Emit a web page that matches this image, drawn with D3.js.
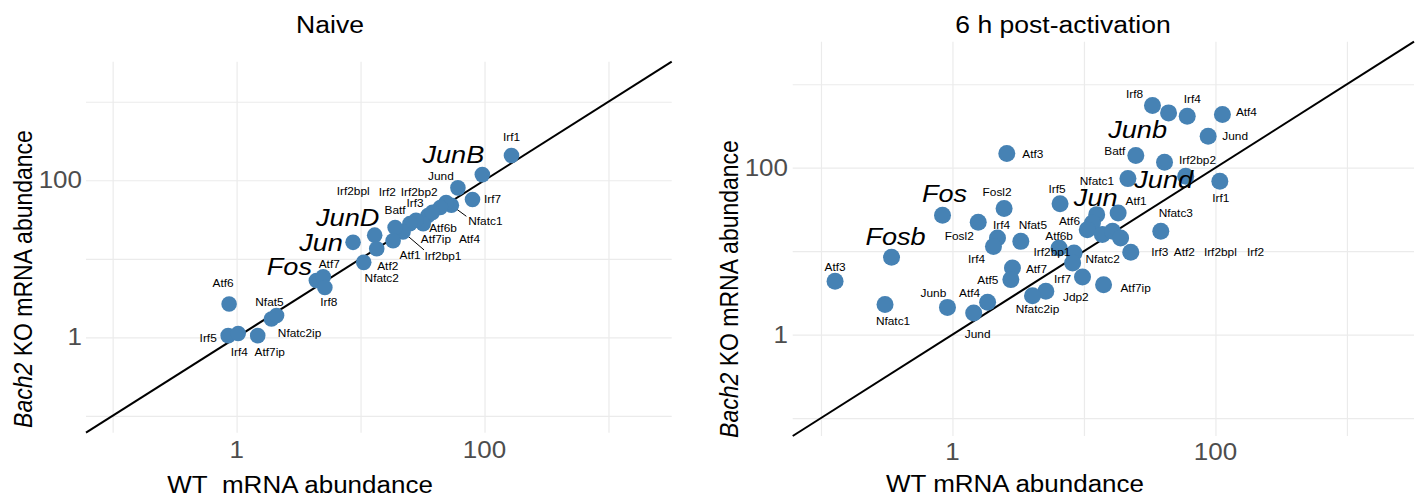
<!DOCTYPE html>
<html>
<head>
<meta charset="utf-8">
<script src="https://cdn.jsdelivr.net/npm/d3@7"></script>
<style>
  body { margin: 0; background: #fff; }
  text { font-family: "Liberation Sans", Arial, Helvetica, sans-serif; }
</style>
</head>
<body>
<div id="chart"></div>
<script>
// ---- data: Naive ----
const naiveGenes = ["Irf1", "JunB", "Jund", "Irf7", "Nfatc1", "Irf2bp2", "Irf2", "Irf3", "Irf2bpl", "Atf6b",
  "Atf7ip", "Atf4", "Irf2bp1", "Batf", "Atf1", "JunD", "Jun", "Atf2", "Nfatc2", "Fos",
  "Atf7", "Irf8", "Atf6", "Nfat5", "Nfatc2ip", "Irf5", "Irf4", "Atf7ip"];
const naiveWT = [165, 96, 61, 80, 54, 49, 44, 35, 32, 28,
  25, 38, 22, 19, 18.3, 13, 8.7, 13.5, 10.6, 4.4,
  5.0, 5.15, 0.87, 1.91, 2.1, 0.855, 1.03, 1.48];
const naiveKO = [207, 118, 80, 57, 48, 52, 45, 35.5, 28, 31,
  28, 39, 22, 25, 17, 20, 16.2, 13.4, 9, 5.3,
  5.9, 4.3, 2.66, 1.71, 1.89, 1.05, 1.12, 1.05];
const naiveBig = ["JunB", "JunD", "Jun", "Fos"];

// ---- data: 6 h post-activation ----
const actGenes = ["Irf8", "Junb", "Irf4", "Atf4", "Jund", "Batf", "Irf2bp2", "Atf3", "Nfatc1", "Jund",
  "Irf1", "Irf5", "Jun", "Atf1", "Atf6", "Nfatc3", "Atf6b", "Irf2bp1", "Nfatc2", "Irf3",
  "Atf2", "Irf2bpl", "Irf2", "", "Irf7", "Atf7ip", "Jdp2", "Nfatc2ip", "Atf4", "Jund",
  "Junb", "Nfatc1", "Atf3", "Fosb", "Fos", "Fosl2", "Fosl2", "Irf4", "Irf4", "Nfat5",
  "Atf7", "Atf5"];
const actWT = [33.2, 44, 61, 113, 88, 24.8, 41, 2.59, 21.6, 59.4,
  108, 6.58, 12.5, 18.2, 11.6, 38.4, 6.47, 8.4, 8.2, 22.7,
  10.6, 13.8, 16.5, 19, 9.75, 14.1, 5.13, 4.06, 1.85, 1.45,
  0.916, 0.307, 0.128, 0.344, 0.84, 2.47, 1.57, 2.2, 2.05, 3.31,
  2.86, 2.78];
const actKO = [555, 454, 413, 433, 238, 140, 116, 148, 74, 79,
  68.7, 37.1, 27.4, 28.7, 21.8, 17.3, 10.9, 9.5, 7.2, 9.7,
  18.1, 15.8, 17.3, 14.4, 4.91, 3.97, 3.3, 2.93, 2.44, 1.82,
  2.12, 2.29, 4.35, 8.44, 26.9, 32.4, 22.2, 14.4, 11.4, 13.1,
  6.3, 4.56];
// big italic labels in this panel, by index
const actBigIdx = [1, 9, 12, 33, 34];

// ---- axis values ----
const tickValues = [1, 100];
const tickLabels = ["1", "100"];
const gridValues = [0.1, 1, 10, 100, 1000];
const logDomain = [Math.pow(10, -1.215), Math.pow(10, 3.51)];

// label placement (ggrepel-like), pixel offsets from each point
const naiveOffsets = [[0,-18],[-29,-20],[-17,-12],[20,0],[34,16],[-27,-10],[-53,-15],[-13,-12],[-70,-32],[27,8],
  [26,16],[37,27],[40,24],[0,-17],[17,15],[-27,-18],[-32,0],[11,17],[18,16],[-27,-14],
  [6,-13],[4,15],[-6,-21],[-2,-17],[23,18],[-20,3],[1,19],[12,17]];
const naiveLeaders = { 4: [15, 11], 12: [21, 18] };
const actOffsets = [[-18,-11],[-31,17],[5,-17],[24,-2],[27,0],[-21,-4],[33,-2],[26,1],[-31,3],[-22,3],
  [1,17],[-3,-14],[-1,-17],[18,-12],[-23,-2],[15,-18],[0,-12],[-22,-1],[30,-4],[29,0],
  [97,23],[118,18],[143,21],[0,0],[-20,2],[32,4],[30,6],[5,14],[-18,-9],[4,21],
  [-14,-14],[8,17],[0,-14],[4,-21],[2,-22],[-7,-16],[-19,14],[4,-13],[-17,13],[12,-16],
  [24,1],[-23,1]];

const SX = 1.13; // horizontal stretch of the original figure's text
const W = 1425, H = 504;

const svg = d3.select("#chart").append("svg")
  .attr("width", W)
  .attr("height", H);

function hText(g, x, y, str, size, opts = {}) {
  return g.append("text")
    .attr("transform", `translate(${x},${y}) scale(${SX},1)`)
    .attr("text-anchor", opts.anchor || "middle")
    .attr("dominant-baseline", "central")
    .style("font-size", size + "px")
    .style("font-style", opts.italic ? "italic" : "normal")
    .style("fill", opts.color || "#000")
    .text(str);
}

function drawPanel(cfg) {
  const g = svg.append("g");
  const x = d3.scaleLog().domain(logDomain).range(cfg.xr);
  const y = d3.scaleLog().domain(logDomain).range(cfg.yr);
  const plotH = cfg.yr[0] - cfg.yr[1];
  const plotW = cfg.xr[1] - cfg.xr[0];

  // gridlines
  g.append("g")
    .attr("transform", `translate(0,${cfg.yr[0]})`)
    .call(d3.axisBottom(x).tickValues(gridValues).tickSize(-plotH).tickFormat(""))
    .call(a => a.select(".domain").remove())
    .call(a => a.selectAll("line").attr("stroke", "#ebebeb").attr("stroke-width", 1.2));
  g.append("g")
    .attr("transform", `translate(${cfg.xr[0]},0)`)
    .call(d3.axisLeft(y).tickValues(gridValues).tickSize(-plotW).tickFormat(""))
    .call(a => a.select(".domain").remove())
    .call(a => a.selectAll("line").attr("stroke", "#ebebeb").attr("stroke-width", 1.2));

  // tick labels
  tickValues.forEach((v, i) => {
    hText(g, x(v), cfg.xTickY, tickLabels[i], 23, { color: "#4d4d4d" });
    hText(g, cfg.yTickX, y(v), tickLabels[i], 23, { color: "#4d4d4d", anchor: "end" });
  });

  // identity line
  g.append("line")
    .attr("x1", x(logDomain[0])).attr("y1", y(logDomain[0]))
    .attr("x2", x(logDomain[1])).attr("y2", y(logDomain[1]))
    .attr("stroke", "#000")
    .attr("stroke-width", 2);

  const pts = cfg.genes.map((gname, i) => ({
    gene: gname, wt: cfg.wt[i], ko: cfg.ko[i], i: i,
    big: cfg.bigIdx.includes(i)
  }));

  // leader segments
  Object.keys(cfg.leaders).forEach(k => {
    const d = pts[+k], e = cfg.leaders[k];
    g.append("line")
      .attr("x1", x(d.wt)).attr("y1", y(d.ko))
      .attr("x2", x(d.wt) + e[0]).attr("y2", y(d.ko) + e[1])
      .attr("stroke", "#000").attr("stroke-width", 1);
  });

  g.selectAll("circle")
    .data(pts)
    .enter().append("circle")
    .attr("cx", d => x(d.wt))
    .attr("cy", d => y(d.ko))
    .attr("r", cfg.r)
    .style("fill", "steelblue");

  pts.forEach(d => {
    if (!d.gene) return;
    const o = cfg.offsets[d.i];
    hText(g, x(d.wt) + o[0], y(d.ko) + o[1], d.gene, d.big ? 24 : 10.5, { italic: d.big });
  });

  // titles
  hText(g, cfg.titleX, 25, cfg.title, 23.5);
  hText(g, cfg.xTitleX, cfg.xTitleY, cfg.xTitle, 23);

  const yt = g.append("text")
    .attr("transform", `translate(${cfg.yTitleX},${cfg.yTitleY}) scale(${SX},1) rotate(-90)`)
    .attr("text-anchor", "middle")
    .attr("dominant-baseline", "central")
    .style("font-size", "23px");
  yt.append("tspan").style("font-style", "italic").text("Bach2");
  yt.append("tspan").text(" KO mRNA abundance");
}

drawPanel({
  genes: naiveGenes, wt: naiveWT, ko: naiveKO,
  bigIdx: naiveGenes.map((d, i) => naiveBig.includes(d) ? i : -1).filter(i => i >= 0),
  offsets: naiveOffsets, leaders: naiveLeaders,
  xr: [86, 671.7], yr: [432.7, 61.7], r: 7.8,
  xTickY: 450, yTickX: 82,
  title: "Naive", titleX: 330,
  xTitle: "WT\u00a0\u00a0mRNA abundance", xTitleX: 300, xTitleY: 485,
  yTitleX: 22, yTitleY: 279
});

drawPanel({
  genes: actGenes, wt: actWT, ko: actKO,
  bigIdx: actBigIdx,
  offsets: actOffsets, leaders: {},
  xr: [792.7, 1414], yr: [436, 41.7], r: 8.5,
  xTickY: 451.7, yTickX: 788,
  title: "6 h post-activation", titleX: 1063,
  xTitle: "WT mRNA abundance", xTitleX: 1015, xTitleY: 484,
  yTitleX: 728, yTitleY: 289
});
</script>
</body>
</html>
